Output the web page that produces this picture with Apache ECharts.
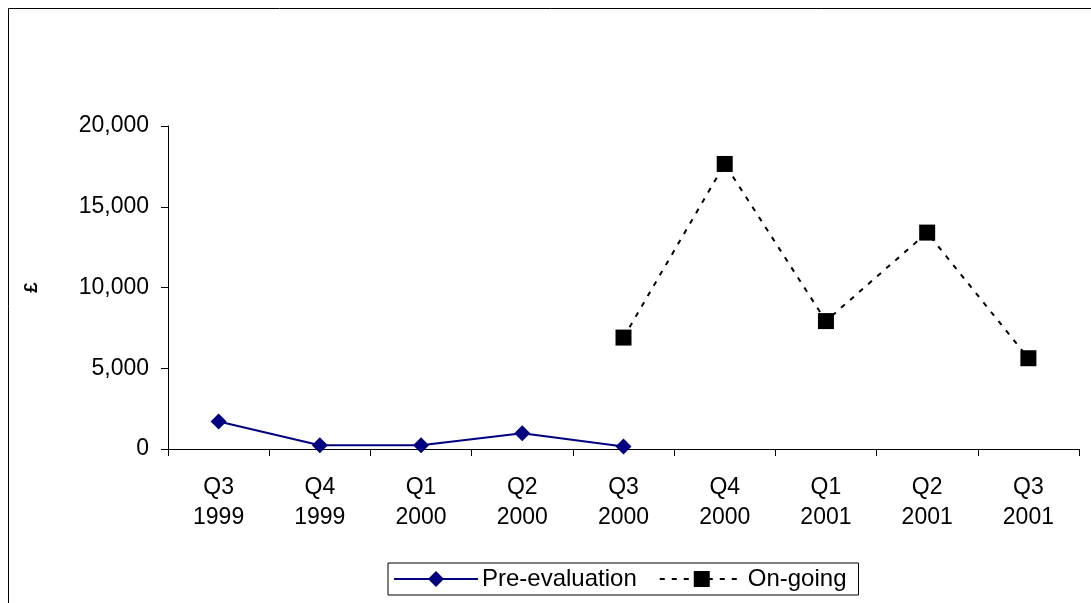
<!DOCTYPE html>
<html>
<head>
<meta charset="utf-8">
<script src="https://cdn.jsdelivr.net/npm/echarts@6/dist/echarts.min.js"></script>
<style>
  html, body { margin: 0; padding: 0; background: #fff; }
  #main { width: 1091px; height: 603px; }
</style>
</head>
<body>
<div id="main"></div>
<script>
const categories = ['Q3\n1999', 'Q4\n1999', 'Q1\n2000', 'Q2\n2000', 'Q3\n2000', 'Q4\n2000', 'Q1\n2001', 'Q2\n2001', 'Q3\n2001'];
const preEvaluation = [1700, 230, 230, 970, 150, null, null, null, null];
const onGoing = [null, null, null, null, 6900, 17650, 7920, 13400, 5620];
const yTicks = { min: 0, max: 20000, interval: 5000 };

const myChart = echarts.init(document.getElementById('main'));
myChart.setOption({
    animation: false,
    textStyle: { fontFamily: 'Liberation Sans, Arial, sans-serif' },
    graphic: [{
        type: 'rect',
        shape: { x: 8.5, y: 8.5, width: 1200, height: 700 },
        style: { fill: 'none', stroke: '#000', lineWidth: 1 },
        silent: true
    }],
    grid: { left: 168, right: 12, top: 126, bottom: 154, containLabel: false },
    legend: {
        top: 563,
        left: 388,
        itemWidth: 84,
        itemHeight: 20,
        itemGap: 22,
        borderColor: '#000',
        borderWidth: 1,
        borderRadius: 0,
        padding: [4, 12, 4, 5],
        textStyle: { fontSize: 24, color: '#000', padding: [0, 0, 0, -1] },
        data: ['Pre-evaluation', 'On-going']
    },
    xAxis: {
        type: 'category',
        data: categories,
        axisLine: { lineStyle: { color: '#000', width: 1 } },
        axisTick: { show: true, length: 7, lineStyle: { color: '#000' } },
        axisLabel: { color: '#000', fontSize: 23, lineHeight: 30, margin: 24 }
    },
    yAxis: {
        type: 'value',
        min: yTicks.min,
        max: yTicks.max,
        interval: yTicks.interval,
        name: '£',
        nameLocation: 'middle',
        nameGap: 127,
        nameRotate: 90,
        nameTextStyle: { fontSize: 19, fontWeight: 'bold', color: '#000' },
        splitLine: { show: false },
        axisLine: { show: true, lineStyle: { color: '#000', width: 1 } },
        axisTick: { show: true, length: 7, lineStyle: { color: '#000' } },
        axisLabel: {
            color: '#000', fontSize: 23, margin: 19,
            formatter: v => v.toLocaleString('en-GB')
        }
    },
    series: [
        {
            name: 'Pre-evaluation',
            type: 'line',
            data: preEvaluation,
            symbol: 'diamond',
            symbolSize: 16,
            itemStyle: { color: '#000080' },
            lineStyle: { color: '#000080', width: 2 }
        },
        {
            name: 'On-going',
            type: 'line',
            data: onGoing,
            symbol: 'rect',
            symbolSize: 16,
            itemStyle: { color: '#000' },
            lineStyle: { color: '#000', width: 2, type: [5, 7] }
        }
    ]
});
</script>
</body>
</html>
